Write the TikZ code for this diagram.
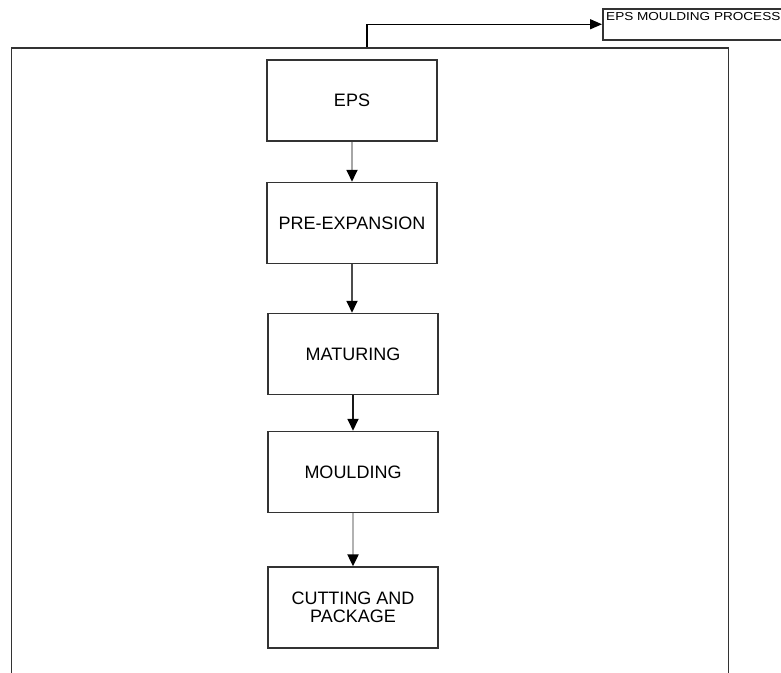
\documentclass[tikz,border=0pt]{standalone}
\usepackage{fontspec}
\setmainfont{Liberation Sans}
\usetikzlibrary{arrows.meta}
\definecolor{edge}{HTML}{333333}
\tikzset{
  stepbox/.style={draw=edge, line width=1.5pt, minimum width=170pt, minimum height=81pt,
    inner sep=0pt, align=center, font=\fontsize{18}{17.5}\selectfont},
  flow/.style={line width=1.8pt, -{Triangle[black,length=12pt,width=11pt]}},
}
\begin{document}
\begin{tikzpicture}[x=1pt,y=-1pt]
\useasboundingbox (0,0) rectangle (781,672);
\clip (0,0) rectangle (781,672);
\fill[white] (0,0) rectangle (781,672);
% outer frame (extends below the page)
\node[draw=edge, line width=1.5pt, minimum width=717pt, minimum height=660pt, inner sep=0pt, anchor=north west] (outer) at (10.5,47) {};
% process title box (extends beyond the right edge)
\node[draw=edge, line width=1.5pt, minimum width=220pt, minimum height=31pt, inner sep=0pt, anchor=north west] (proc) at (602,8) {};
\node[anchor=west, inner sep=0pt, font=\fontsize{11.6}{12}\selectfont] (proctext) at (606,16.5) {\scalebox{1.17}[1]{EPS MOULDING PROCESS}};
\coordinate (start) at (367,47);
\draw[line width=1.5pt, draw=black, -{Triangle[black,length=12pt,width=10pt]}] (start) |- (proc.west);
% steps
\node[stepbox] (eps) at (352,100.5) {EPS};
\node[stepbox] (pre) at (352,223) {PRE-EXPANSION};
\node[stepbox] (mat) at (353,354) {MATURING};
\node[stepbox] (mou) at (353,472) {MOULDING};
\node[stepbox] (cut) at (353,607.5) {CUTTING AND\\PACKAGE};
% connectors
\draw[flow, draw=gray!70] (eps.south -| 352,0) -- (pre.north -| 352,0);
\draw[flow, draw=black!70] (pre.south -| 352,0) -- (mat.north -| 352,0);
\draw[flow, draw=black!90] (mat) -- (mou);
\draw[flow, draw=gray!60, line width=2.4pt] (mou) -- (cut);
\end{tikzpicture}
\end{document}
